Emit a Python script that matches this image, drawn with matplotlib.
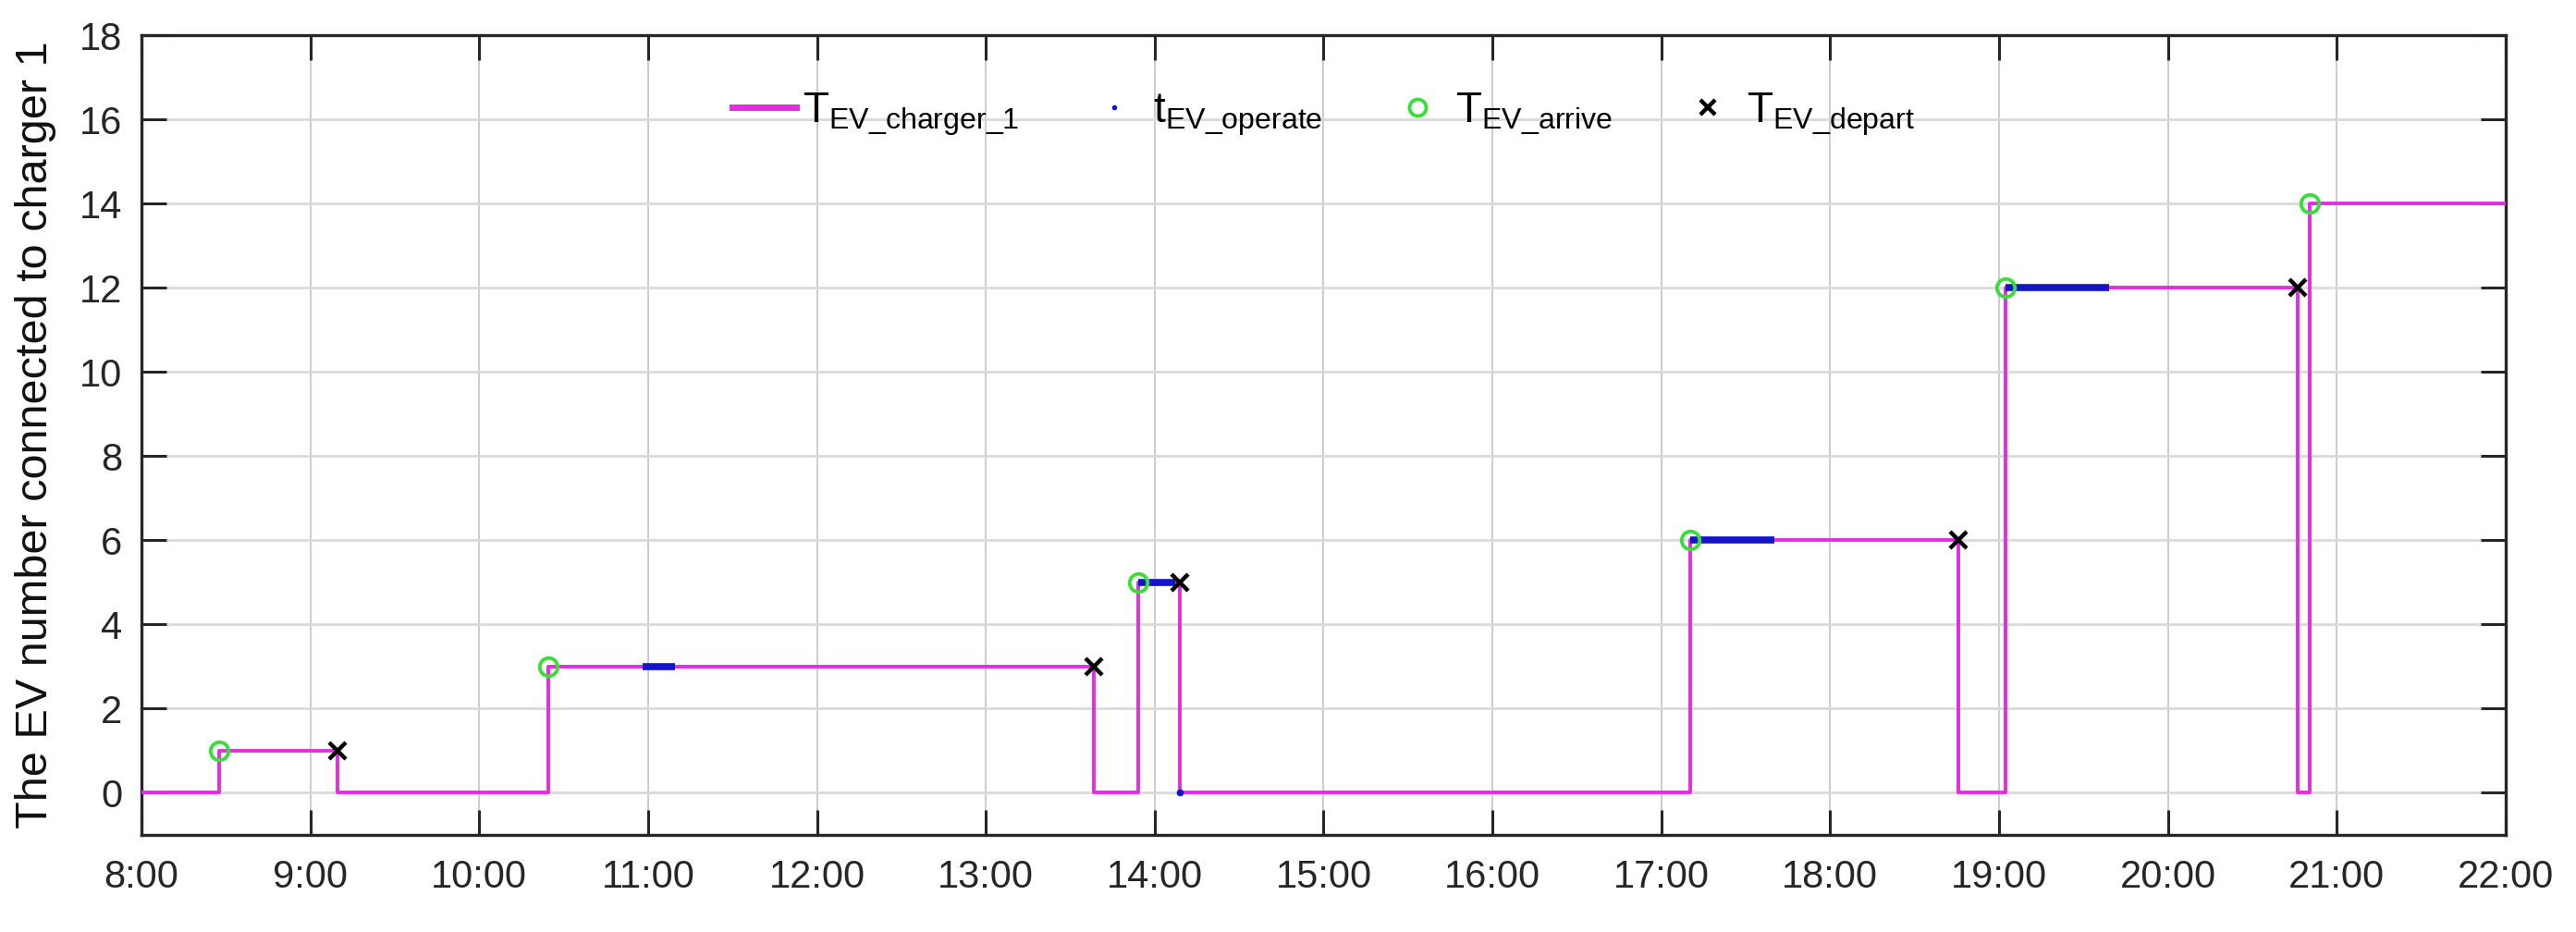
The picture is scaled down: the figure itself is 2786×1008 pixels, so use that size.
import matplotlib
matplotlib.use("Agg")
import matplotlib.pyplot as plt
from matplotlib.lines import Line2D

plt.rcParams['font.family'] = ['Liberation Sans', 'DejaVu Sans']
plt.rcParams['mathtext.fontset'] = 'custom'
plt.rcParams['mathtext.rm'] = 'Liberation Sans'
plt.rcParams['mathtext.it'] = 'Liberation Sans'

# ---- data (hours of day) ----
step_t = [8.0, 8.46, 9.16, 10.41, 13.64, 13.90, 14.15, 17.17, 18.76, 19.04, 20.77, 20.84, 22.0]
step_v = [0, 1, 0, 3, 0, 5, 0, 6, 0, 12, 0, 14, 14]

arrive_t = [8.46, 10.41, 13.90, 17.17, 19.04, 20.84]
arrive_v = [1, 3, 5, 6, 12, 14]

depart_t = [9.16, 13.64, 14.15, 18.76, 20.77]
depart_v = [1, 3, 5, 6, 12]

operate_start = [10.97, 13.90, 17.17, 19.04]
operate_end = [11.16, 14.12, 17.67, 19.65]
operate_level = [3, 5, 6, 12]
operate_pt_t = [14.15]
operate_pt_v = [0]

hours = list(range(8, 23))
hour_labels = [f"{h}:00" for h in hours]
yticks = list(range(0, 19, 2))

magenta = '#e22ee0'
blue = '#1414c8'
green = '#3ddc3d'

fig = plt.figure(figsize=(27.86, 10.08), dpi=100)
ax = fig.add_axes([0.0549, 0.1042, 0.9178, 0.8581])

ax.plot(step_t, step_v, drawstyle='steps-post', color=magenta, lw=2.8, zorder=3)
ax.hlines(operate_level, operate_start, operate_end, color=blue, lw=5.5, zorder=4)
ax.plot(operate_pt_t, operate_pt_v, '.', color=blue, ms=9, zorder=4)
ax.plot(arrive_t, arrive_v, 'o', mfc='none', mec=green, ms=14, mew=2.8, zorder=5)
ax.plot(depart_t, depart_v, 'x', color='black', ms=13, mew=3.2, zorder=5)

ax.set_xlim(8, 22)
ax.set_ylim(-1, 18)
ax.set_xticks(hours)
ax.set_xticklabels(hour_labels)
ax.set_yticks(yticks)

ax.xaxis.grid(True, color='#c4c4c4', lw=1.2)
ax.yaxis.grid(True, color='#dadada', lw=2.0)
ax.set_axisbelow(True)
for s in ax.spines.values():
    s.set_color('#262626')
    s.set_linewidth(2.4)

ax.tick_params(axis='x', direction='in', length=19.5, width=2.2, top=True, bottom=True,
               labelsize=30, pad=19, colors='#262626')
ax.tick_params(axis='y', direction='in', length=19.5, width=2.2, left=True, right=True,
               labelsize=30, pad=15, colors='#262626')

ax.set_ylabel('The EV number connected to charger 1', fontsize=35, color='#111111')
ax.yaxis.set_label_coords(-0.036, 0.5)

handles = [
    Line2D([], [], color=magenta, lw=5),
    Line2D([], [], color=blue, marker='.', ls='none', ms=6),
    Line2D([], [], marker='o', mfc='none', mec=green, ls='none', ms=13, mew=2.8),
    Line2D([], [], marker='x', color='black', ls='none', ms=12, mew=3.2),
]
labels = [r'$\mathrm{T}_{\mathrm{EV\_charger\_1}}$',
          r'$\mathrm{t}_{\mathrm{EV\_operate}}$',
          r'$\mathrm{T}_{\mathrm{EV\_arrive}}$',
          r'$\mathrm{T}_{\mathrm{EV\_depart}}$']
ax.legend(handles, labels, loc='upper center', bbox_to_anchor=(0.5, 0.978), ncol=4,
          frameon=False, fontsize=33, handlelength=1.5, columnspacing=1.5,
          handletextpad=0.15)

fig.savefig('out.png', dpi=100, facecolor='white')
